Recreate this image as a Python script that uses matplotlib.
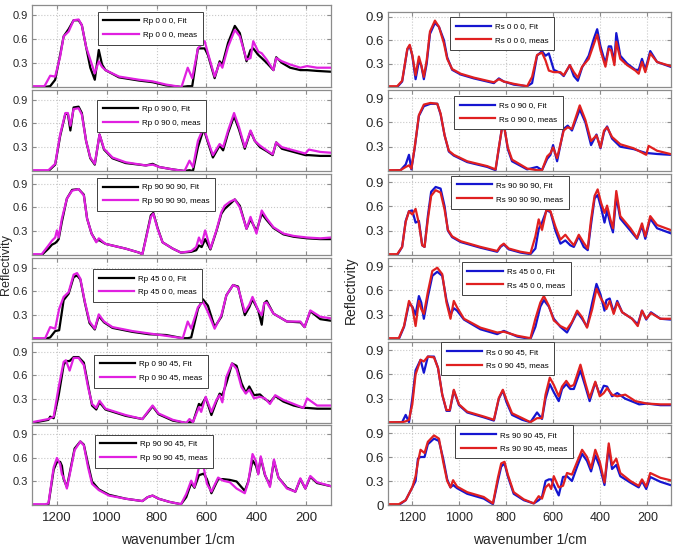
import matplotlib
matplotlib.use("Agg")
import matplotlib.pyplot as plt

plt.rcParams['font.family'] = ['Liberation Sans', 'DejaVu Sans']

# ---------------- data: Rp (left column) ----------------
rp000_x = [1300,1250,1227,1207,1187,1173,1153,1133,1113,1100,1083,1066,1048,1032,1019,1005,951,870,816,762,700,675,657,634,607,594,567,547,536,513,486,466,439,423,412,392,378,358,331,320,297,264,223,196,156,100]
rp000_meas = [0.01,0.01,0.14,0.13,0.38,0.63,0.69,0.83,0.84,0.77,0.50,0.34,0.17,0.32,0.25,0.21,0.13,0.09,0.07,0.03,0.00,0.24,0.11,0.48,0.57,0.42,0.13,0.30,0.24,0.50,0.71,0.63,0.34,0.36,0.57,0.44,0.42,0.34,0.21,0.36,0.32,0.28,0.24,0.26,0.24,0.24]
rp000_fit = [0.00,0.00,0.01,0.09,0.40,0.63,0.72,0.83,0.83,0.77,0.50,0.24,0.09,0.46,0.28,0.21,0.12,0.08,0.06,0.02,0.00,0.01,0.01,0.48,0.48,0.40,0.11,0.32,0.28,0.55,0.76,0.67,0.32,0.46,0.48,0.40,0.36,0.30,0.21,0.37,0.30,0.24,0.21,0.21,0.20,0.19]

rp0900_x = [1300,1234,1207,1187,1166,1156,1146,1133,1113,1100,1083,1066,1048,1029,1011,977,924,843,816,789,735,688,668,654,634,611,594,574,547,533,513,489,469,446,423,406,385,358,334,320,297,250,203,189,143,100]
rp0900_meas = [0.01,0.01,0.09,0.46,0.73,0.73,0.57,0.78,0.79,0.71,0.38,0.17,0.09,0.46,0.28,0.17,0.11,0.07,0.08,0.05,0.02,0.00,0.13,0.05,0.38,0.55,0.38,0.20,0.34,0.30,0.51,0.73,0.55,0.30,0.51,0.38,0.32,0.26,0.21,0.36,0.30,0.26,0.22,0.27,0.24,0.23]
rp0900_fit = [0.00,0.00,0.08,0.44,0.72,0.72,0.51,0.80,0.81,0.73,0.38,0.16,0.08,0.46,0.27,0.16,0.10,0.07,0.09,0.05,0.02,0.00,0.01,0.00,0.30,0.53,0.36,0.17,0.32,0.26,0.48,0.69,0.52,0.28,0.50,0.38,0.30,0.25,0.20,0.36,0.28,0.24,0.20,0.20,0.19,0.19]

rp909090_x = [1300,1261,1234,1220,1207,1200,1193,1180,1160,1139,1113,1092,1079,1061,1042,1032,1005,924,870,857,843,823,813,796,776,735,702,661,641,630,619,605,584,560,540,527,506,486,466,439,423,399,378,358,331,291,250,196,143,100]
rp909090_meas = [0.01,0.01,0.12,0.18,0.22,0.31,0.22,0.46,0.71,0.81,0.83,0.75,0.46,0.27,0.16,0.21,0.14,0.08,0.03,0.01,0.20,0.48,0.52,0.33,0.16,0.08,0.03,0.05,0.10,0.22,0.14,0.31,0.08,0.31,0.54,0.62,0.67,0.70,0.60,0.33,0.48,0.27,0.56,0.46,0.35,0.27,0.24,0.22,0.21,0.22]
rp909090_fit = [0.00,0.00,0.08,0.13,0.15,0.17,0.20,0.42,0.71,0.82,0.83,0.76,0.46,0.27,0.17,0.19,0.14,0.08,0.03,0.01,0.21,0.50,0.53,0.34,0.16,0.08,0.03,0.04,0.06,0.12,0.10,0.20,0.07,0.30,0.52,0.58,0.64,0.70,0.62,0.33,0.45,0.30,0.52,0.44,0.34,0.26,0.23,0.21,0.20,0.20]

rp4500_x = [1300,1247,1227,1207,1191,1173,1153,1133,1119,1106,1088,1069,1048,1032,1011,977,897,830,762,695,675,661,634,614,594,567,540,520,493,473,446,428,415,392,378,368,358,331,277,223,206,183,143,100]
rp4500_meas = [0.01,0.01,0.15,0.13,0.38,0.53,0.59,0.81,0.83,0.76,0.47,0.22,0.13,0.31,0.22,0.15,0.10,0.07,0.04,0.01,0.22,0.13,0.40,0.47,0.34,0.13,0.30,0.55,0.68,0.65,0.34,0.43,0.53,0.36,0.30,0.45,0.46,0.32,0.22,0.22,0.15,0.36,0.28,0.26]
rp4500_fit = [0.00,0.00,0.02,0.10,0.11,0.49,0.57,0.78,0.80,0.75,0.46,0.20,0.12,0.29,0.21,0.14,0.09,0.06,0.05,0.01,0.01,0.02,0.38,0.50,0.42,0.15,0.28,0.55,0.68,0.66,0.30,0.40,0.50,0.36,0.18,0.45,0.48,0.32,0.22,0.21,0.15,0.35,0.25,0.23]

rp09045_x = [1300,1234,1227,1213,1193,1173,1164,1149,1133,1113,1092,1075,1059,1042,1029,1005,924,857,836,816,792,735,681,668,654,630,621,603,580,560,547,536,520,497,479,459,442,428,409,385,365,345,324,291,250,210,196,156,100]
rp09045_meas = [0.01,0.05,0.06,0.08,0.45,0.77,0.79,0.66,0.82,0.82,0.73,0.45,0.24,0.19,0.28,0.18,0.10,0.05,0.14,0.22,0.12,0.04,0.00,0.05,0.01,0.20,0.14,0.33,0.14,0.29,0.35,0.26,0.58,0.75,0.68,0.45,0.37,0.42,0.31,0.33,0.31,0.24,0.35,0.29,0.24,0.19,0.31,0.22,0.22]
rp09045_fit = [0.00,0.04,0.08,0.06,0.35,0.73,0.78,0.78,0.83,0.83,0.76,0.48,0.22,0.17,0.26,0.17,0.09,0.05,0.13,0.21,0.11,0.03,0.00,0.01,0.01,0.24,0.22,0.32,0.10,0.27,0.37,0.35,0.50,0.75,0.72,0.50,0.38,0.46,0.35,0.36,0.30,0.26,0.34,0.27,0.22,0.19,0.19,0.18,0.18]

rp909045_x = [1300,1247,1234,1213,1200,1187,1180,1173,1160,1146,1129,1106,1092,1075,1059,1032,991,924,857,836,816,792,749,702,681,661,648,630,611,598,580,553,533,506,479,446,432,415,401,392,382,365,345,329,311,277,243,223,203,183,156,100]
rp909045_meas = [0.01,0.01,0.02,0.48,0.60,0.52,0.39,0.35,0.21,0.43,0.70,0.81,0.76,0.48,0.27,0.19,0.12,0.08,0.05,0.10,0.12,0.08,0.04,0.01,0.14,0.31,0.23,0.48,0.48,0.27,0.17,0.35,0.31,0.29,0.21,0.15,0.29,0.65,0.56,0.39,0.62,0.39,0.23,0.58,0.35,0.21,0.17,0.34,0.21,0.37,0.29,0.24]
rp909045_fit = [0.00,0.00,0.01,0.45,0.55,0.55,0.50,0.33,0.23,0.45,0.72,0.81,0.77,0.52,0.30,0.20,0.13,0.08,0.05,0.10,0.12,0.08,0.04,0.01,0.10,0.28,0.22,0.38,0.40,0.33,0.15,0.33,0.33,0.32,0.30,0.18,0.30,0.57,0.50,0.40,0.60,0.38,0.25,0.56,0.35,0.22,0.17,0.33,0.21,0.36,0.28,0.24]

# ---------------- data: Rs (right column) ----------------
rs000_x = [1300,1261,1240,1218,1208,1197,1183,1169,1159,1148,1136,1122,1101,1084,1063,1049,1028,992,936,851,830,809,766,710,689,668,647,632,618,597,569,555,529,512,495,477,449,427,413,399,378,364,354,340,332,315,286,251,237,223,209,188,159,103]
rs000_meas = [0.01,0.01,0.08,0.49,0.54,0.41,0.15,0.39,0.28,0.13,0.34,0.71,0.85,0.77,0.56,0.36,0.23,0.17,0.12,0.06,0.10,0.07,0.04,0.01,0.13,0.41,0.44,0.34,0.21,0.19,0.19,0.15,0.28,0.19,0.12,0.26,0.36,0.55,0.67,0.47,0.26,0.49,0.47,0.28,0.58,0.36,0.28,0.21,0.17,0.32,0.19,0.43,0.32,0.27]
rs000_fit = [0.00,0.00,0.07,0.48,0.53,0.40,0.10,0.33,0.28,0.10,0.30,0.68,0.82,0.77,0.60,0.38,0.22,0.16,0.11,0.05,0.11,0.07,0.03,0.01,0.05,0.40,0.46,0.40,0.43,0.22,0.18,0.14,0.28,0.14,0.08,0.25,0.40,0.62,0.74,0.52,0.30,0.52,0.52,0.32,0.69,0.40,0.30,0.22,0.22,0.36,0.22,0.46,0.32,0.26]

rs0900_x = [1300,1247,1225,1211,1201,1187,1169,1148,1120,1091,1077,1060,1042,1021,964,879,844,830,816,806,792,774,710,668,647,625,611,600,583,555,538,520,487,463,439,416,399,384,371,350,315,258,205,195,159,103]
rs0900_meas = [0.01,0.01,0.05,0.07,0.03,0.29,0.69,0.82,0.84,0.83,0.71,0.44,0.25,0.20,0.12,0.06,0.02,0.29,0.54,0.52,0.29,0.14,0.03,0.01,0.01,0.18,0.22,0.29,0.16,0.50,0.54,0.52,0.81,0.63,0.37,0.44,0.29,0.50,0.54,0.42,0.33,0.28,0.20,0.31,0.25,0.21]
rs0900_fit = [0.00,0.01,0.08,0.20,0.02,0.28,0.68,0.80,0.83,0.83,0.70,0.44,0.24,0.19,0.11,0.05,0.01,0.28,0.55,0.53,0.27,0.12,0.02,0.05,0.01,0.15,0.20,0.32,0.12,0.52,0.56,0.50,0.76,0.60,0.32,0.45,0.28,0.48,0.55,0.40,0.30,0.27,0.22,0.22,0.21,0.20]

rs909090_x = [1300,1261,1240,1225,1211,1197,1183,1169,1155,1145,1131,1117,1098,1077,1060,1046,1028,992,908,837,823,809,788,738,696,675,661,647,628,611,590,569,548,527,512,491,470,453,439,424,411,396,382,371,357,346,332,315,272,244,223,209,188,159,103]
rs909090_meas = [0.01,0.01,0.10,0.41,0.54,0.50,0.57,0.39,0.12,0.10,0.44,0.73,0.80,0.77,0.56,0.31,0.23,0.17,0.10,0.05,0.11,0.14,0.08,0.04,0.02,0.23,0.44,0.31,0.56,0.54,0.35,0.19,0.25,0.17,0.12,0.25,0.15,0.08,0.44,0.73,0.81,0.64,0.52,0.61,0.44,0.33,0.79,0.48,0.33,0.21,0.39,0.23,0.48,0.37,0.31]
rs909090_fit = [0.00,0.00,0.10,0.42,0.54,0.55,0.40,0.42,0.12,0.10,0.48,0.78,0.84,0.82,0.60,0.30,0.22,0.16,0.09,0.04,0.10,0.13,0.07,0.03,0.01,0.08,0.32,0.40,0.55,0.53,0.30,0.14,0.18,0.12,0.10,0.23,0.10,0.06,0.38,0.70,0.74,0.58,0.40,0.55,0.38,0.28,0.72,0.45,0.30,0.20,0.36,0.20,0.45,0.33,0.27]

rs4500_x = [1300,1254,1232,1211,1197,1183,1169,1159,1148,1131,1112,1091,1070,1052,1035,1021,1007,978,908,837,809,752,696,675,654,639,618,597,569,541,520,498,477,456,434,416,399,382,374,360,343,328,307,265,241,223,205,185,145,103]
rs4500_meas = [0.01,0.01,0.16,0.47,0.39,0.16,0.47,0.37,0.31,0.58,0.84,0.88,0.80,0.45,0.25,0.47,0.39,0.25,0.14,0.08,0.09,0.04,0.01,0.25,0.45,0.53,0.41,0.23,0.16,0.12,0.21,0.35,0.27,0.14,0.37,0.62,0.51,0.43,0.37,0.47,0.31,0.45,0.33,0.25,0.16,0.35,0.25,0.32,0.25,0.25]
rs4500_fit = [0.00,0.00,0.15,0.44,0.40,0.30,0.53,0.45,0.25,0.52,0.78,0.83,0.78,0.48,0.30,0.38,0.35,0.24,0.12,0.06,0.10,0.03,0.00,0.15,0.40,0.48,0.40,0.25,0.15,0.08,0.20,0.33,0.25,0.15,0.45,0.68,0.55,0.35,0.48,0.50,0.33,0.47,0.33,0.25,0.18,0.35,0.24,0.33,0.25,0.24]

rs09045_x = [1300,1240,1225,1211,1197,1183,1162,1148,1131,1105,1088,1070,1052,1038,1021,999,964,894,851,830,813,798,774,731,696,668,647,632,614,597,576,562,544,527,512,484,463,445,421,402,385,371,350,328,294,251,235,202,145,103]
rs09045_meas = [0.01,0.01,0.02,0.04,0.23,0.60,0.78,0.76,0.82,0.81,0.68,0.35,0.16,0.16,0.41,0.23,0.14,0.08,0.04,0.31,0.41,0.29,0.12,0.06,0.01,0.06,0.06,0.35,0.56,0.47,0.33,0.45,0.52,0.45,0.47,0.72,0.49,0.31,0.51,0.33,0.37,0.43,0.35,0.33,0.35,0.27,0.26,0.24,0.23,0.23]
rs09045_fit = [0.00,0.01,0.10,0.01,0.30,0.65,0.78,0.62,0.82,0.82,0.68,0.35,0.15,0.15,0.40,0.22,0.13,0.07,0.03,0.30,0.40,0.26,0.10,0.04,0.01,0.13,0.05,0.30,0.48,0.38,0.27,0.42,0.48,0.42,0.42,0.65,0.45,0.27,0.50,0.35,0.46,0.45,0.33,0.37,0.30,0.25,0.23,0.24,0.22,0.22]

rs909045_x = [1300,1254,1225,1197,1183,1173,1162,1145,1131,1105,1084,1066,1049,1035,1024,1007,964,894,855,834,820,806,792,767,724,682,661,647,632,618,608,597,576,558,541,520,498,477,456,439,421,402,382,364,350,332,315,272,237,223,205,188,145,103]
rs909045_meas = [0.01,0.01,0.06,0.22,0.36,0.54,0.69,0.65,0.79,0.87,0.83,0.54,0.30,0.22,0.31,0.23,0.16,0.10,0.02,0.34,0.52,0.54,0.38,0.16,0.07,0.02,0.11,0.08,0.22,0.26,0.20,0.36,0.22,0.24,0.40,0.38,0.54,0.69,0.60,0.46,0.69,0.54,0.28,0.77,0.50,0.58,0.40,0.30,0.24,0.32,0.23,0.40,0.34,0.31]
rs909045_fit = [0.00,0.00,0.06,0.22,0.30,0.58,0.60,0.60,0.76,0.83,0.80,0.58,0.32,0.22,0.25,0.21,0.14,0.08,0.01,0.30,0.48,0.52,0.36,0.14,0.06,0.02,0.06,0.10,0.30,0.32,0.32,0.25,0.12,0.35,0.36,0.30,0.48,0.64,0.55,0.42,0.62,0.48,0.25,0.72,0.45,0.50,0.36,0.28,0.22,0.30,0.20,0.35,0.29,0.25]

rp_labels = ["Rp 0 0 0", "Rp 0 90 0", "Rp 90 90 90", "Rp 45 0 0", "Rp 0 90 45", "Rp 90 90 45"]
rs_labels = ["Rs 0 0 0", "Rs 0 90 0", "Rs 90 90 90", "Rs 45 0 0", "Rs 0 90 45", "Rs 90 90 45"]
xtick_values = [1200, 1000, 800, 600, 400, 200]
ytick_values = [0.3, 0.6, 0.9]

rp_series = [(rp000_x, rp000_fit, rp000_meas), (rp0900_x, rp0900_fit, rp0900_meas),
             (rp909090_x, rp909090_fit, rp909090_meas), (rp4500_x, rp4500_fit, rp4500_meas),
             (rp09045_x, rp09045_fit, rp09045_meas), (rp909045_x, rp909045_fit, rp909045_meas)]
rs_series = [(rs000_x, rs000_fit, rs000_meas), (rs0900_x, rs0900_fit, rs0900_meas),
             (rs909090_x, rs909090_fit, rs909090_meas), (rs4500_x, rs4500_fit, rs4500_meas),
             (rs09045_x, rs09045_fit, rs09045_meas), (rs909045_x, rs909045_fit, rs909045_meas)]

# ---------------- layout ----------------
W, H = 678, 548
fig = plt.figure(figsize=(W / 100, H / 100), dpi=100)

rows_px = [(5, 87), (90, 171), (174, 255), (258, 339), (342, 423), (425, 505)]
rows_px_right = [(12, 87)] + rows_px[1:]
left_x = (32, 331)
right_x = (388, 671)

leg_left = [(0.22, 0.915), (0.217, 0.88), (0.217, 0.95), (0.204, 0.86), (0.207, 0.84), (0.21, 0.875)]
leg_right = [(0.219, 0.93), (0.233, 0.925), (0.223, 0.975), (0.26, 0.95), (0.187, 0.995), (0.237, 0.995)]

grid_c = '#c8c8c8'
spine_c = '#8c8c8c'
text_c = '#262626'


def make_ax(xpx, ypx):
    x0, x1 = xpx
    t, b = ypx
    return fig.add_axes([x0 / W, 1 - b / H, (x1 - x0) / W, (b - t) / H])


def style_ax(ax, ylim_top, ytick_fs, xtick_fs, show_x, yticks):
    ax.set_xlim(1300, 100)
    ax.set_ylim(0, ylim_top)
    ax.set_xticks(xtick_values)
    ax.set_yticks(yticks)
    ax.set_yticklabels([("%g" % v) for v in yticks])
    ax.grid(True, linestyle=':', color=grid_c, linewidth=0.8)
    for s in ax.spines.values():
        s.set_color(spine_c)
        s.set_linewidth(0.9)
    ax.tick_params(direction='in', length=3, color=spine_c, labelcolor=text_c,
                   top=True, right=True)
    ax.tick_params(axis='y', labelsize=ytick_fs, pad=3)
    ax.tick_params(axis='x', labelsize=xtick_fs, pad=5)
    if not show_x:
        ax.tick_params(axis='x', labelbottom=False)


def add_legend(ax, labels, pos):
    leg = ax.legend(labels, loc='upper left', bbox_to_anchor=pos, borderaxespad=0,
                    fontsize=5.8, handlelength=4.4, handletextpad=0.5,
                    labelspacing=0.75, borderpad=0.7, fancybox=False,
                    framealpha=1, edgecolor='#404040')
    leg.get_frame().set_linewidth(0.7)


for i, (xs, fit, meas) in enumerate(rp_series):
    ax = make_ax(left_x, rows_px[i])
    ax.plot(xs, fit, color='black', lw=1.6, solid_joinstyle='round')
    ax.plot(xs, meas, color='#e020e0', lw=1.6, solid_joinstyle='round')
    style_ax(ax, 1.02, 8, 9.5, i == 5, ytick_values)
    add_legend(ax, [rp_labels[i] + ", Fit", rp_labels[i] + ", meas"], leg_left[i])

for i, (xs, fit, meas) in enumerate(rs_series):
    ax = make_ax(right_x, rows_px_right[i])
    ax.plot(xs, fit, color='#1515d0', lw=1.6, solid_joinstyle='round')
    ax.plot(xs, meas, color='#e02020', lw=1.6, solid_joinstyle='round')
    top = 0.96 if i == 0 else 1.0
    yt = [0] + ytick_values if i == 5 else ytick_values
    style_ax(ax, top, 9.5, 9, i == 5, yt)
    add_legend(ax, [rs_labels[i] + ", Fit", rs_labels[i] + ", meas"], leg_right[i])

fig.text(6 / W, 1 - 265 / H, "Reflectivity", rotation=90, ha='center', va='center',
         fontsize=9, color=text_c)
fig.text(351 / W, 1 - 290 / H, "Reflectivity", rotation=90, ha='center', va='center',
         fontsize=10, color=text_c)
fig.text(178 / W, 1 - 540 / H, "wavenumber 1/cm", ha='center', va='center',
         fontsize=10, color=text_c)
fig.text(530 / W, 1 - 540 / H, "wavenumber 1/cm", ha='center', va='center',
         fontsize=10, color=text_c)

fig.savefig("out.png", dpi=100)
